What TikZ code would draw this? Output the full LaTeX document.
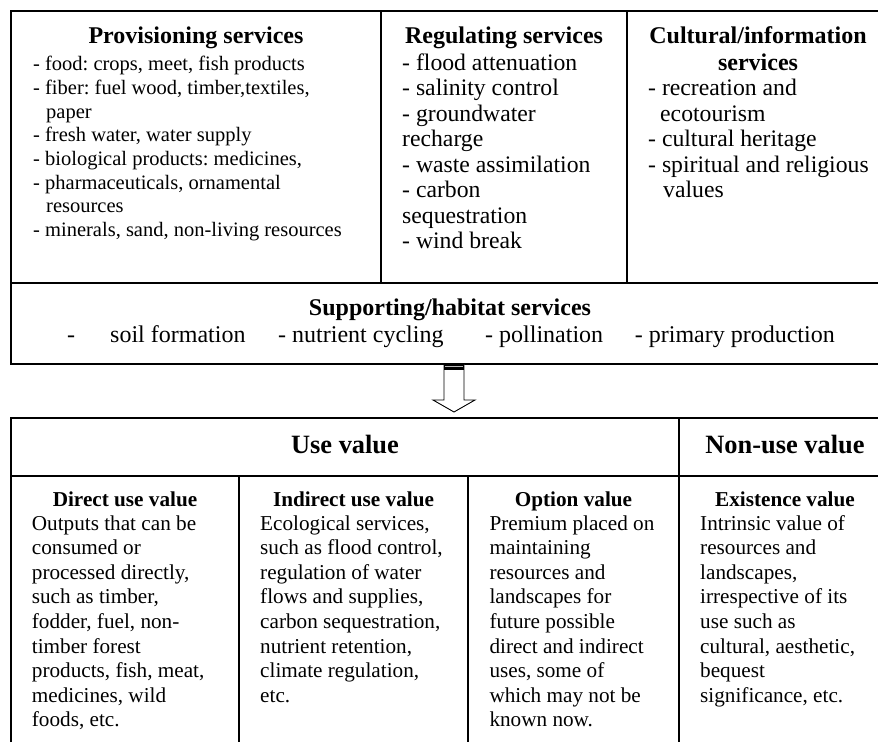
\documentclass[tikz,border=0pt]{standalone}
\usepackage{fontspec}
\setmainfont{Liberation Serif}
\frenchspacing
\begin{document}
\begin{tikzpicture}[x=1pt,y=-1pt,
  frame/.style={line width=1.8pt},
  divider/.style={line width=1.3pt},
  txt/.style={inner sep=0pt, anchor=base west, align=left},
  ttl/.style={inner sep=0pt, anchor=base, align=center, font=\bfseries\fontsize{24}{27}\selectfont},
  bigttl/.style={inner sep=0pt, anchor=base, font=\bfseries\fontsize{26.4}{30}\selectfont},
  subttl/.style={inner sep=0pt, anchor=base, font=\bfseries\fontsize{21.2}{24.6}\selectfont},
  provbody/.style={txt, font=\fontsize{20.5}{23.7}\selectfont},
  regbody/.style={txt, font=\fontsize{23.7}{25.5}\selectfont},
  supbody/.style={inner sep=0pt, font=\fontsize{24}{26}\selectfont},
  valbody/.style={txt, font=\fontsize{21.2}{24.6}\selectfont},
  blockarrow/.style={line width=0.9pt, fill=white}
]
\useasboundingbox (0,0) rectangle (878,742);
\fill[white] (0,0) rectangle (878,742);

% ---------- top services box ----------
\draw[frame] (878,11) -- (11,11) -- (11,364) -- (878,364);
\draw[frame] (11,283) -- (878,283);
\draw[divider] (381,11) -- (381,283);
\draw[divider] (627,11) -- (627,283);

% multi-line nodes: the base anchor sits on the LAST line
\node[ttl] (provT) at (196,43) {Provisioning services};
\node[provbody] (provB) at (33,236.6) {- food: crops, meet, fish products\\
- fiber: fuel wood, timber,textiles,\\
\hspace*{13pt}paper\\
- fresh water, water supply\\
- biological products: medicines,\\
- pharmaceuticals, ornamental\\
\hspace*{13pt}resources\\
- minerals, sand, non-living resources};

\node[ttl] (regT) at (504,43) {Regulating services};
\node[regbody] (regB) at (402,248.5) {- flood attenuation\\
- salinity control\\
- groundwater\\
recharge\\
- waste assimilation\\
- carbon\\
sequestration\\
- wind break};

\node[ttl] (culT) at (758,70) {Cultural/information\\services};
\node[regbody] (culB) at (648,197.5) {- recreation and\\
\hspace*{12pt}ecotourism\\
- cultural heritage\\
- spiritual and religious\\
\hspace*{15pt}values};

% ---------- supporting row ----------
\node[ttl] (supT) at (450,315) {Supporting/habitat services};
\node[supbody, anchor=base west] (sup0) at (67,342) {-};
\node[supbody, anchor=base west] (sup1) at (110,342) {soil formation};
\node[supbody, anchor=base west] (sup2) at (278,342) {- nutrient cycling};
\node[supbody, anchor=base west] (sup3) at (485,342) {- pollination};
\node[supbody, anchor=base east] (sup4) at (835,342) {- primary production};

% ---------- block arrow ----------
\coordinate (arrTop) at (454,364);
\coordinate (arrTip) at (454,412);
\draw[blockarrow] (444,364) -- (444,400) -- (433,400) -- (arrTip) -- (475,400) -- (464,400) -- (464,364);
\fill (444,363) rectangle (464,369.5);
\draw[gray!55, line width=1pt] (445,366.2) -- (463,366.2);

% ---------- value table ----------
\draw[frame] (11,742) -- (11,418) -- (878,418);
\draw[frame] (11,476) -- (878,476);
\draw[divider] (679,418) -- (679,742);
\draw[divider] (239,476) -- (239,742);
\draw[divider] (468,476) -- (468,742);

\node[bigttl] (useT) at (345,453) {Use value};
\node[bigttl] (nonT) at (785,453) {Non-use value};

\node[subttl] (dirT) at (125,506) {Direct use value};
\node[valbody] (dirB) at (31.7,726.8) {Outputs that can be\\
consumed or\\
processed directly,\\
such as timber,\\
fodder, fuel, non-\\
timber forest\\
products, fish, meat,\\
medicines, wild\\
foods, etc.};

\node[subttl] (indT) at (353.5,506) {Indirect use value};
\node[valbody] (indB) at (260,702.2) {Ecological services,\\
such as flood control,\\
regulation of water\\
flows and supplies,\\
carbon sequestration,\\
nutrient retention,\\
climate regulation,\\
etc.};

\node[subttl] (optT) at (573.5,506) {Option value};
\node[valbody] (optB) at (489.3,726.8) {Premium placed on\\
maintaining\\
resources and\\
landscapes for\\
future possible\\
direct and indirect\\
uses, some of\\
which may not be\\
known now.};

\node[subttl] (exiT) at (785,506) {Existence value};
\node[valbody] (exiB) at (700,702.2) {Intrinsic value of\\
resources and\\
landscapes,\\
irrespective of its\\
use such as\\
cultural, aesthetic,\\
bequest\\
significance, etc.};
\end{tikzpicture}
\end{document}
